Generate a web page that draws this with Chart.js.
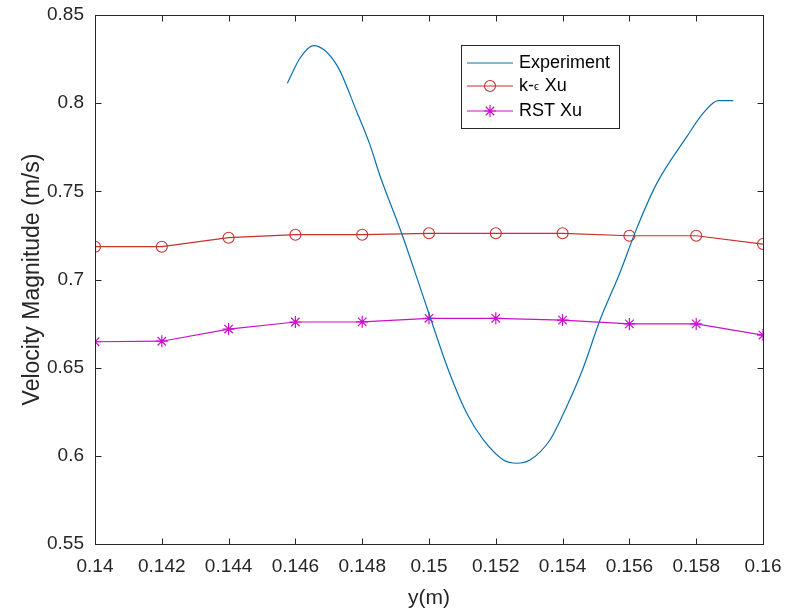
<!DOCTYPE html>
<html>
<head>
<meta charset="utf-8">
<script src="https://cdn.jsdelivr.net/npm/chart.js@4/dist/chart.umd.min.js"></script>
<style>
  html, body { margin: 0; padding: 0; background: #ffffff; }
  #wrap { width: 786px; height: 616px; }
</style>
</head>
<body>
<div id="wrap"><canvas id="c" width="786" height="616"></canvas></div>
<script>
// ---- data ----
const positions = [0.14, 0.142, 0.144, 0.146, 0.148, 0.15, 0.152, 0.154, 0.156, 0.158, 0.16];
const keXu  = [0.7186, 0.7186, 0.7237, 0.7254, 0.7254, 0.7262, 0.7262, 0.7262, 0.7248, 0.7248, 0.7201];
const rstXu = [0.6647, 0.6650, 0.6719, 0.6759, 0.6760, 0.6780, 0.6780, 0.6770, 0.6748, 0.6748, 0.6685];
const expX = [0.14576, 0.14614, 0.14654, 0.14724, 0.14784, 0.14823, 0.14853, 0.14918, 0.14953, 0.15003,
              0.15058, 0.15113, 0.15163, 0.15223, 0.15263, 0.15302, 0.15362, 0.15412, 0.15462, 0.15512,
              0.15572, 0.15622, 0.15682, 0.15772, 0.15821, 0.15866, 0.15911];
const expY = [0.8113, 0.8256, 0.8326, 0.8216, 0.7950, 0.7765, 0.7590, 0.7262, 0.7070, 0.6789,
              0.6487, 0.6241, 0.6090, 0.5976, 0.5958, 0.5976, 0.6090, 0.6279, 0.6500, 0.6770,
              0.7040, 0.7290, 0.7545, 0.7810, 0.7943, 0.8014, 0.8014];
const xTicks = [0.14, 0.142, 0.144, 0.146, 0.148, 0.15, 0.152, 0.154, 0.156, 0.158, 0.16];
const yTicks = [0.55, 0.6, 0.65, 0.7, 0.75, 0.8, 0.85];
const seriesNames = ['Experiment', 'k-\u03F5 Xu', 'RST Xu'];

const FONT = '"Liberation Sans", Arial, Helvetica, sans-serif';
const TXT = '#262626';
const C_EXP = '#0a70b0';
const C_KE = '#c8302c';
const C_RST = '#cc10cc';

const fmt = v => String(Number(v.toFixed(4)));

const boxPlugin = {
  id: 'matlabBox',
  afterDatasetsDraw(chart) {
    const ctx = chart.ctx, a = chart.chartArea;
    const xs = chart.scales.x, ys = chart.scales.y;
    ctx.save();
    ctx.strokeStyle = TXT;
    ctx.lineWidth = 1;
    const L = Math.round(a.left) + 0.5, R = Math.round(a.right) + 0.5;
    const T = Math.round(a.top) + 0.5, B = Math.round(a.bottom) + 0.5;
    ctx.strokeRect(L, T, R - L, B - T);
    const tl = 6;
    ctx.beginPath();
    xTicks.forEach(v => {
      const p = Math.round(xs.getPixelForValue(v)) + 0.5;
      ctx.moveTo(p, B); ctx.lineTo(p, B - tl);
      ctx.moveTo(p, T); ctx.lineTo(p, T + tl);
    });
    yTicks.forEach(v => {
      const p = Math.round(ys.getPixelForValue(v)) + 0.5;
      ctx.moveTo(L, p); ctx.lineTo(L + tl, p);
      ctx.moveTo(R, p); ctx.lineTo(R - tl, p);
    });
    ctx.stroke();
    ctx.restore();
  },
  afterDraw(chart) {
    // legend box
    const ctx = chart.ctx;
    const bx = 461.5, by = 45.5, bw = 158, bh = 83;
    ctx.save();
    ctx.fillStyle = '#ffffff';
    ctx.fillRect(bx, by, bw, bh);
    ctx.strokeStyle = TXT;
    ctx.lineWidth = 1;
    ctx.strokeRect(bx, by, bw, bh);
    const rows = [63, 86, 111];
    const x0 = 467, x1 = 513, xm = 490, tx = 519;
    chart.data.datasets.forEach((ds, i) => {
      const y = rows[i];
      ctx.strokeStyle = ds.borderColor;
      ctx.lineWidth = ds.borderWidth;
      ctx.beginPath(); ctx.moveTo(x0, y); ctx.lineTo(x1, y); ctx.stroke();
      if (ds.pointStyle && ds.pointRadius > 0) {
        ctx.fillStyle = ds.pointBackgroundColor;
        ctx.strokeStyle = ds.pointBorderColor;
        ctx.lineWidth = ds.pointBorderWidth || 1;
        Chart.helpers.drawPoint(ctx, {
          pointStyle: ds.pointStyle, radius: ds.pointRadius, rotation: 0,
          borderWidth: ds.pointBorderWidth || 1
        }, xm, y);
      }
      ctx.fillStyle = '#000000';
      ctx.textBaseline = 'middle';
      ctx.textAlign = 'left';
      const label = ds.label;
      if (label.indexOf('\u03F5') >= 0) {
        const parts = label.split('\u03F5');
        ctx.font = '18px ' + FONT;
        ctx.fillText(parts[0], tx, y);
        let w = ctx.measureText(parts[0]).width;
        ctx.font = '11px ' + FONT;
        ctx.fillText('\u03F5', tx + w, y + 1);
        w += ctx.measureText('\u03F5').width + 1;
        ctx.font = '18px ' + FONT;
        ctx.fillText(parts[1], tx + w, y);
      } else {
        ctx.font = '18px ' + FONT;
        ctx.fillText(label, tx, y);
      }
    });
    ctx.restore();
  }
};

new Chart(document.getElementById('c'), {
  type: 'line',
  data: {
    datasets: [
      {
        label: seriesNames[0],
        data: expX.map((x, i) => ({ x: x, y: expY[i] })),
        borderColor: C_EXP, backgroundColor: C_EXP, borderWidth: 1.2,
        pointRadius: 0, cubicInterpolationMode: 'monotone', fill: false
      },
      {
        label: seriesNames[1],
        data: positions.map((x, i) => ({ x: x, y: keXu[i] })),
        borderColor: C_KE, backgroundColor: 'rgba(0,0,0,0)', borderWidth: 1.2,
        pointStyle: 'circle', pointRadius: 5.5, pointBorderColor: C_KE,
        pointBackgroundColor: 'rgba(0,0,0,0)', pointBorderWidth: 1.1, tension: 0, fill: false
      },
      {
        label: seriesNames[2],
        data: positions.map((x, i) => ({ x: x, y: rstXu[i] })),
        borderColor: C_RST, backgroundColor: C_RST, borderWidth: 1.2,
        pointStyle: 'star', pointRadius: 6, pointBorderColor: C_RST,
        pointBackgroundColor: C_RST, pointBorderWidth: 1.2, tension: 0, fill: false
      }
    ]
  },
  options: {
    responsive: false,
    animation: false,
    events: [],
    layout: { padding: { left: 0, top: 15, right: 23, bottom: 0 } },
    plugins: { legend: { display: false }, tooltip: { enabled: false } },
    scales: {
      x: {
        type: 'linear', min: 0.14, max: 0.16,
        afterBuildTicks: s => { s.ticks = xTicks.map(v => ({ value: v })); },
        afterFit: s => { s.height = 72; s.paddingLeft = 0; s.paddingRight = 0; },
        grid: { display: false, drawTicks: false },
        border: { display: false },
        ticks: { padding: 11, color: TXT, font: { family: FONT, size: 19 }, callback: v => fmt(v), maxRotation: 0, autoSkip: false },
        title: { display: true, text: 'y(m)', color: TXT, font: { family: FONT, size: 21 }, padding: { top: 5, bottom: 5 } }
      },
      y: {
        type: 'linear', min: 0.55, max: 0.85,
        afterBuildTicks: s => { s.ticks = yTicks.map(v => ({ value: v })); },
        afterFit: s => { s.width = 95; s.paddingTop = 0; s.paddingBottom = 0; },
        grid: { display: false, drawTicks: false },
        border: { display: false },
        ticks: { padding: 11, color: TXT, font: { family: FONT, size: 19 }, callback: v => fmt(v), autoSkip: false },
        title: { display: true, text: 'Velocity Magnitude (m/s)', color: TXT, font: { family: FONT, size: 23 }, padding: { top: 19, bottom: 0 } }
      }
    }
  },
  plugins: [boxPlugin]
});
</script>
</body>
</html>
